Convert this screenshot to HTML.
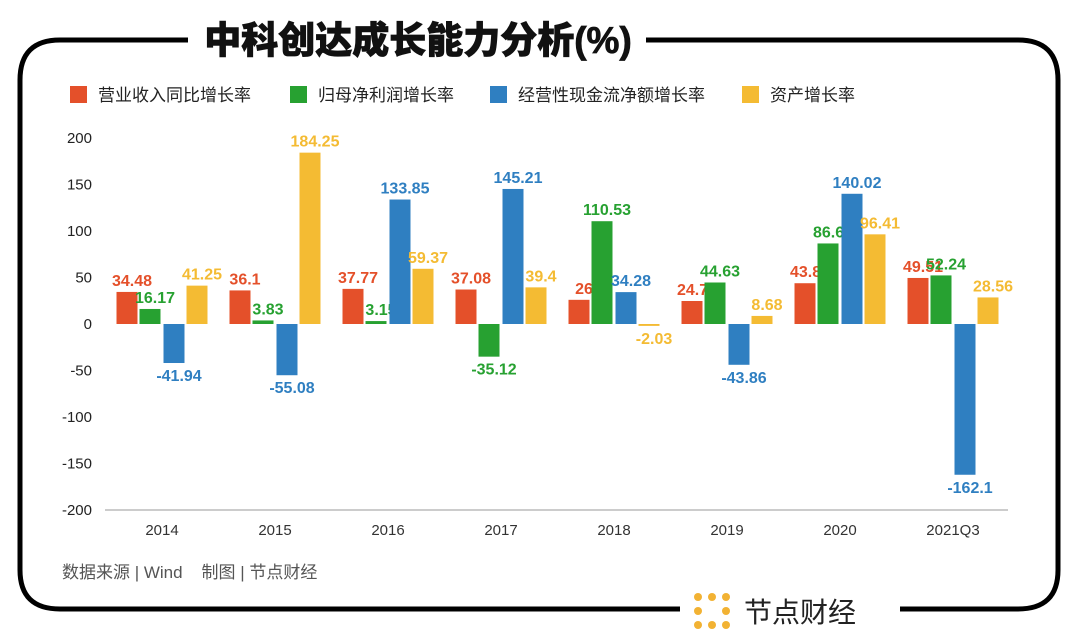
<!DOCTYPE html>
<html><head><meta charset="utf-8"><style>
body{margin:0;background:#fff;}
svg{display:block;font-family:"Liberation Sans","Noto Sans CJK SC",sans-serif;}
</style></head><body>
<svg id="chart" width="1080" height="638" viewBox="0 0 1080 638">
<path d="M190 40 H1018 Q1058 40 1058 80 V570 Q1058 609 1018 609 H60 Q20 609 20 570 V80 Q20 40 60 40 Z" fill="none" stroke="#000" stroke-width="5"/>
<rect x="188" y="18" width="458" height="44" fill="#fff"/>
<text x="418" y="53" text-anchor="middle" font-size="37" font-weight="900" fill="#111" stroke="#111" stroke-width="0.8">中科创达成长能力分析(%)</text>
<rect x="680" y="590" width="220" height="40" fill="#fff"/>
<g>
<g fill="#f2b233"><circle cx="698" cy="597" r="4"/><circle cx="712" cy="597" r="4"/><circle cx="726" cy="597" r="4"/><circle cx="698" cy="611" r="4"/><circle cx="726" cy="611" r="4"/><circle cx="698" cy="625" r="4"/><circle cx="712" cy="625" r="4"/><circle cx="726" cy="625" r="4"/></g>
<text x="744" y="622" font-size="28" fill="#222">节点财经</text>
</g>
<g id="legend" font-size="17" fill="#222"></g>
<g id="plot"></g>
<text x="62" y="578" font-size="17" fill="#555">数据来源 | Wind &#160;&#160;&#160;制图 | 节点财经</text>
</svg>
<script>
const categories=["2014","2015","2016","2017","2018","2019","2020","2021Q3"];
const seriesNames=["营业收入同比增长率","归母净利润增长率","经营性现金流净额增长率","资产增长率"];
const revenue=[34.48,36.1,37.77,37.08,26,24.74,43.85,49.51];
const netProfit=[16.17,3.83,3.15,-35.12,110.53,44.63,86.61,52.24];
const cashFlow=[-41.94,-55.08,133.85,145.21,34.28,-43.86,140.02,-162.1];
const assets=[41.25,184.25,59.37,39.4,-2.03,8.68,96.41,28.56];
const yTicks=[200,150,100,50,0,-50,-100,-150,-200];
const colors=["#e4502a","#27a131","#2f7fc1","#f4bb33"];
const series=[revenue,netProfit,cashFlow,assets];
const NS="http://www.w3.org/2000/svg";
const plot=document.getElementById('plot'),legend=document.getElementById('legend');
const y=v=>324-v*0.93;
const x=i=>162+i*113;
function mk(t,a,p){const e=document.createElementNS(NS,t);for(const k in a)e.setAttribute(k,a[k]);p.appendChild(e);return e;}
const legX=[70,290,490,742];
seriesNames.forEach((n,i)=>{
 const r=mk('rect',{x:legX[i],y:86,width:17,height:17,fill:colors[i]},legend);
 
 
 const t=mk('text',{x:legX[i]+28,y:101},legend);t.textContent=n;
 
 
});
yTicks.forEach(v=>{
 const t=mk('text',{x:92,y:y(v)+5,'text-anchor':'end','font-size':15,fill:'#222'},plot);t.textContent=v;
 
 
});
const ax=mk('line',{x1:105,x2:1008,y1:510,y2:510,stroke:'#999','stroke-width':1},plot);


categories.forEach((c,i)=>{
 const t=mk('text',{x:x(i),y:535,'text-anchor':'middle','font-size':15,fill:'#333'},plot);t.textContent=c;
 
 
});
const offs=[-35,-12,12,35];
series.forEach((s,k)=>{
 s.forEach((v,i)=>{
  const cx=x(i)+offs[k];
  const top=Math.min(y(v),y(0)),h=Math.abs(y(v)-y(0));
  const b=mk('rect',{x:cx-10.5,y:top,width:21,height:Math.max(h,1),fill:colors[k]},plot);
  
  
  const ty=v>=0?y(v)-6:y(v)+18;
  const t=mk('text',{x:cx+5,y:ty,'text-anchor':'middle','font-size':16,'font-weight':'bold',fill:colors[k]},plot);
  t.textContent=v;
  
  
 });
});
</script>
</body></html>
